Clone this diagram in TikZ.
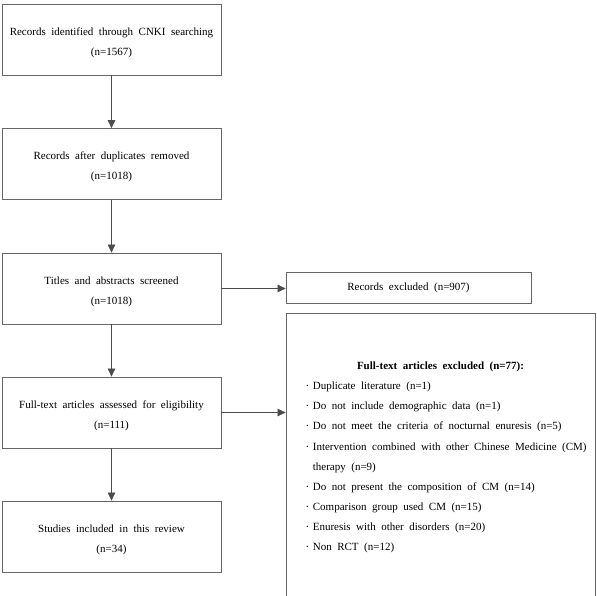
\documentclass[tikz,border=0pt]{standalone}
\usepackage{fontspec}
\setmainfont{Liberation Serif}
\usetikzlibrary{arrows.meta}
\newcommand\flowfont{\fontsize{11}{20}\selectfont\spaceskip=5.5pt plus 1pt\relax}
\newcommand\firstline{\rule{0pt}{13.5pt}}

\begin{document}
\begin{tikzpicture}[
        x=1pt, y=-1pt,
        every node/.style={font=\flowfont},
        stage/.style={draw=black!60, line width=0.8pt, minimum width=219pt,
          minimum height=71pt, align=center, inner sep=0pt},
        outbox/.style={draw=black!60, line width=0.8pt, inner sep=0pt},
        flow/.style={draw=black!70, line width=0.7pt,
          -{Triangle[length=8pt,width=7.5pt]}}
      ]
      \useasboundingbox (0,0) rectangle (597,596);
      \node (ident) [stage] at (111.5,39.5) {\firstline Records identified through CNKI searching\\(n=1567)};
      \node (dup) [stage] at (111.5,164) {\firstline Records after duplicates removed\\(n=1018)};
      \node (screen) [stage] at (111.5,288.5) {\firstline Titles and abstracts screened\\(n=1018)};
      \node (assess) [stage] at (111.5,412.5) {\firstline Full-text articles assessed for eligibility\\(n=111)};
      \node (incl) [stage] at (111.5,536.5) {\firstline Studies included in this review\\(n=34)};
      \node (recex) [outbox, minimum width=245pt, minimum height=31pt] at (408.5,287.5) {Records excluded (n=907)};
      \node (fullex) [outbox, anchor=north, minimum width=309pt, minimum height=320pt] at (440.5,313) {};
      \node (fulltitle) [font=\flowfont\bfseries, anchor=base] at (440.5,369.5) {Full-text articles excluded (n=77):};
      \node (fulllist) [anchor=north west, inner sep=0pt] at (305.5,375.5) {%
        \fontsize{11}{20.1}\selectfont
        \begin{tabular}{@{}l@{\hspace{3.5pt}}l@{}}
          · & Duplicate literature (n=1)\\
          · & Do not include demographic data (n=1)\\
          · & Do not meet the criteria of nocturnal enuresis (n=5)\\
          · & Intervention combined with other Chinese Medicine (CM)\\
            & therapy (n=9)\\
          · & Do not present the composition of CM (n=14)\\
          · & Comparison group used CM (n=15)\\
          · & Enuresis with other disorders (n=20)\\
          · & Non RCT (n=12)
        \end{tabular}};
      \draw [flow] (ident) -- (dup);
      \draw [flow] (dup) -- (screen);
      \draw [flow] (screen) -- (assess);
      \draw [flow] (assess) -- (incl);
      \draw [flow] (screen.east) -- (screen.east -| recex.west);
      \draw [flow] (assess.east) -- (assess.east -| fullex.west);
    \end{tikzpicture}
\end{document}
